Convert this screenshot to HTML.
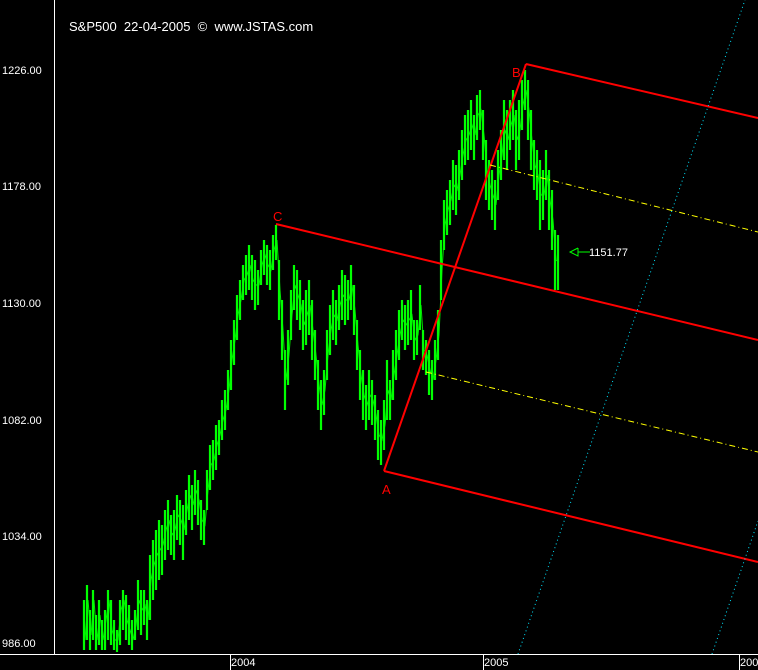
<!DOCTYPE html>
<html><head><meta charset="utf-8"><style>
html,body{margin:0;padding:0;background:#000;width:758px;height:670px;overflow:hidden}
svg{display:block}
text{font-family:"Liberation Sans",sans-serif}
</style></head><body>
<svg width="758" height="670" xmlns="http://www.w3.org/2000/svg">
<rect width="758" height="670" fill="#000"/>
<line x1="54.5" y1="0" x2="54.5" y2="654" stroke="#fff" stroke-width="1"/>
<line x1="0" y1="654.5" x2="758" y2="654.5" stroke="#fff" stroke-width="1"/>
<line x1="230.5" y1="654" x2="230.5" y2="670" stroke="#fff"/>
<line x1="483.5" y1="654" x2="483.5" y2="670" stroke="#fff"/>
<line x1="739.5" y1="654" x2="739.5" y2="670" stroke="#fff"/>
<g fill="#fff" font-size="11">
<text x="2" y="74">1226.00</text>
<text x="2" y="190">1178.00</text>
<text x="2" y="307">1130.00</text>
<text x="2" y="424">1082.00</text>
<text x="2" y="540">1034.00</text>
<text x="2" y="647">986.00</text>
<text x="231" y="666">2004</text>
<text x="484" y="666">2005</text>
<text x="740" y="666">2005</text>
</g>
<text x="69" y="31" fill="#fff" font-size="13" xml:space="preserve">S&amp;P500  22-04-2005  ©  www.JSTAS.com</text>
<path stroke="#00ff00" stroke-width="2.2" fill="none" d="
M84 600V650 M87 585V640 M90 610V650 M93 590V640 M96 615V650 M99 600V645 M102 620V650 M105 610V650 M108 590V640 M111 600V645 M114 620V650 M117 630V652 M120 600V645 M123 590V630 M126 595V640 M129 605V645 M132 620V650 M135 610V640 M138 580V630 M141 590V635 M144 590V625 M147 600V640 M150 555V620 M153 540V600 M156 530V590 M159 520V580 M162 525V575 M165 510V560 M168 500V550 M171 515V555 M174 510V560 M177 495V540 M180 500V545 M183 505V560 M186 490V535 M189 475V520 M192 485V530 M195 470V515 M198 480V525 M201 500V540 M204 510V545 M207 470V510 M210 445V490 M213 440V480 M216 425V470 M219 420V455 M222 400V440 M225 390V430 M228 370V410 M231 340V390 M234 320V365 M237 295V340 M240 280V320 M243 265V300 M246 255V295 M249 245V290 M252 255V300 M255 260V310 M258 270V305 M261 250V285 M264 240V275 M267 245V285 M270 250V290 M273 235V270 M276 225V260 M279 260V320 M282 300V360 M285 350V410 M288 330V385 M291 290V340 M294 265V310 M297 270V320 M300 280V330 M303 300V350 M306 290V345 M309 280V335 M312 300V360 M315 330V380 M318 360V410 M321 380V430 M324 370V415 M327 330V380 M330 305V355 M333 290V340 M336 300V345 M339 285V330 M342 270V320 M345 275V325 M348 280V320 M351 265V310 M354 285V335 M357 320V370 M360 350V400 M363 370V420 M366 385V430 M369 370V420 M372 380V425 M375 395V440 M378 410V460 M381 420V465 M384 400V450 M387 360V420 M390 380V420 M393 350V400 M396 330V380 M399 310V360 M402 300V340 M405 305V350 M408 300V345 M411 290V340 M414 320V360 M417 320V355 M420 285V330 M423 330V370 M426 340V375 M429 350V395 M432 360V400 M435 340V380 M438 310V360 M441 240V300 M444 200V250 M447 190V235 M450 180V225 M453 160V210 M456 165V215 M459 150V200 M462 130V180 M465 115V165 M468 110V160 M471 100V150 M474 115V160 M477 95V140 M480 90V130 M483 110V160 M486 140V200 M489 160V210 M492 170V220 M495 180V230 M498 150V200 M501 130V180 M504 100V160 M507 110V170 M510 100V150 M513 90V140 M516 110V170 M519 100V160 M522 80V130 M525 70V110 M528 80V140 M531 110V170 M534 140V190 M537 150V200 M540 160V230 M543 170V220 M546 150V200 M549 170V230 M552 190V250 M555 230V290 M558 235V290"/>
<path stroke="#00ff00" stroke-width="1" fill="none" opacity="0.9" d="M85 640L88 600L91 635L94 600L97 640L100 615L103 640L106 620L109 600L112 630L115 640L118 640L121 610L124 600L127 620L130 630L133 640L136 625L139 600L142 610L145 605L148 620L151 580L154 565L157 555L160 550L163 545L166 530L169 520L172 535L175 530L178 515L181 520L184 530L187 510L190 495L193 505L196 490L199 500L202 520L205 525L208 490L211 465L214 460L217 445L220 435L223 420L226 410L229 390L232 360L235 340L238 315L241 300L244 280L247 275L250 265L253 280L256 285L259 285L262 265L265 255L268 265L271 270L274 250L277 240L280 290L283 330L286 380L289 355L292 315L295 285L298 295L301 305L304 325L307 315L310 305L313 330L316 355L319 385L322 405L325 390L328 355L331 330L334 315L337 320L340 305L343 295L346 300L349 300L352 285L355 310L358 345L361 375L364 395L367 405L370 395L373 400L376 415L379 435L382 440L385 425L388 390L391 400L394 375L397 355L400 335L403 320L406 325L409 320L412 315L415 340L418 335L421 305L424 350L427 355L430 370L433 380L436 360L439 335L442 270L445 225L448 210L451 200L454 185L457 190L460 175L463 155L466 140L469 135L472 125L475 135L478 115L481 110L484 135L487 170L490 185L493 195L496 205L499 175L502 155L505 130L508 140L511 125L514 115L517 140L520 130L523 105L526 90L529 110L532 140L535 165L538 175L541 195L544 195L547 175L550 200L553 220L556 260L559 262"/>
<g stroke="#ff0000" stroke-width="2" fill="none">
<line x1="384" y1="471" x2="526" y2="64"/>
<line x1="526" y1="64" x2="758" y2="118"/>
<line x1="276" y1="224" x2="758" y2="340"/>
<line x1="384" y1="471" x2="758" y2="562"/>
</g>
<g stroke="#ffff00" stroke-width="1" stroke-dasharray="6,3,1,3" fill="none">
<line x1="490" y1="165" x2="758" y2="232"/>
<line x1="426" y1="372" x2="758" y2="452"/>
</g>
<g stroke="#00e5ff" stroke-width="1" stroke-dasharray="1,3" fill="none">
<line x1="518" y1="654" x2="745" y2="0"/>
<line x1="712" y1="654" x2="758" y2="521"/>
</g>
<g fill="#ff0000" font-size="13">
<text x="273" y="221">C</text>
<text x="512" y="77">B</text>
<text x="382" y="494">A</text>
</g>
<polyline points="578,248 570,252 578,256 578,248" fill="none" stroke="#00ff00"/>
<line x1="578" y1="252" x2="590" y2="252" stroke="#00ff00"/>
<text x="589" y="256" fill="#fff" font-size="11">1151.77</text>
</svg>
</body></html>
